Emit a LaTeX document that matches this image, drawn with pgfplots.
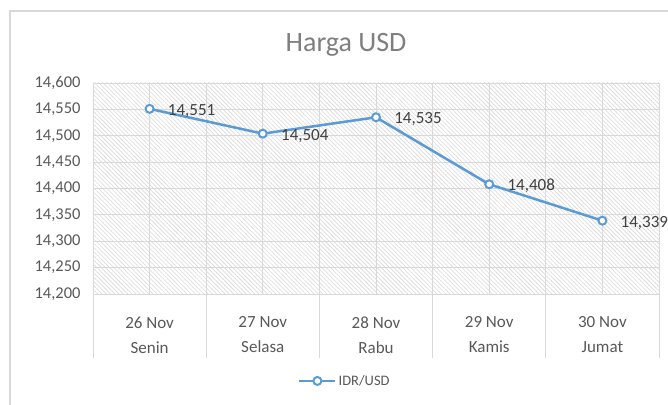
\documentclass[border=0pt]{standalone}
\usepackage{pgfplots}
\pgfplotsset{compat=1.18}
\usepackage{fontspec}
\setmainfont{Carlito}
\usetikzlibrary{patterns.meta}
\definecolor{lineblue}{HTML}{5B9BD5}
\definecolor{gridgray}{HTML}{D9D9D9}
\definecolor{hatchgray}{HTML}{D9D9D9}
\definecolor{titlegray}{HTML}{7F7F7F}
\definecolor{labgray}{HTML}{595959}
\definecolor{datagray}{HTML}{404040}
\begin{document}
\begin{tikzpicture}
\path[use as bounding box, clip] (0,0) rectangle (668pt,404pt);
\fill[white] (0,0) rectangle (668pt,404pt);
\draw[gridgray, line width=1.2pt] (10pt,-10pt) rectangle (700pt,393pt);
\node[font=\fontsize{28}{32}\selectfont, text=titlegray] at (346pt,359pt) {Harga USD};
\begin{axis}[
  at={(93pt,110pt)}, anchor=south west,
  scale only axis, width=566pt, height=211pt,
  xmin=0.5, xmax=5.5, ymin=14200, ymax=14600,
  scaled ticks=false,
  xtick={1,2,3,4,5},
  xticklabels={{26 Nov\\[5pt]Senin},{27 Nov\\[5pt]Selasa},{28 Nov\\[5pt]Rabu},{29 Nov\\[5pt]Kamis},{30 Nov\\[5pt]Jumat}},
  xticklabel style={align=center, font=\fontsize{17}{20}\selectfont, text=labgray, yshift=-19pt},
  ytick={14200,14250,...,14600},
  yticklabel style={font=\fontsize{16.5}{19}\selectfont, text=labgray, xshift=-9pt, /pgf/number format/fixed, /pgf/number format/1000 sep={,}},
  /pgf/number format/.cd, fixed, 1000 sep={,}, assume math mode=true, /pgfplots/.cd,
  major tick length=0pt,
  xtick pos=bottom, ytick pos=left,
  extra x ticks={0.5,1.5,2.5,3.5,4.5,5.5},
  extra x tick labels={},
  extra x tick style={grid=major, major tick length=64pt, tick align=outside, tick style={draw=gridgray, line width=0.8pt}},
  xmajorgrids, ymajorgrids,
  grid style={draw=gridgray, line width=0.8pt},
  axis line style={draw=gridgray, line width=0.8pt},
  axis background/.style={pattern={Lines[angle=-45,distance=3pt,line width=0.6pt]}, pattern color=hatchgray},
  legend style={at={(0.445,-0.412)}, anchor=center, draw=none, fill=none, font=\fontsize{14.5}{16}\selectfont, text=labgray},
  legend image code/.code={\draw[mark repeat=2,mark phase=2] plot coordinates {(0pt,0pt) (18pt,0pt) (36pt,0pt)};},
]
\addplot[color=lineblue, line width=2.5pt, mark=*, mark size=4pt, mark options={fill=white, draw=lineblue, line width=2pt},
  nodes near coords, every node near coord/.append style={anchor=west, xshift=14pt, yshift=-2pt, font=\fontsize{17}{19}\selectfont, text=datagray}]
coordinates {(1,14551) (2,14504) (3,14535) (4,14408) (5,14339)};
\addlegendentry{IDR/USD}
\end{axis}
\end{tikzpicture}
\end{document}
